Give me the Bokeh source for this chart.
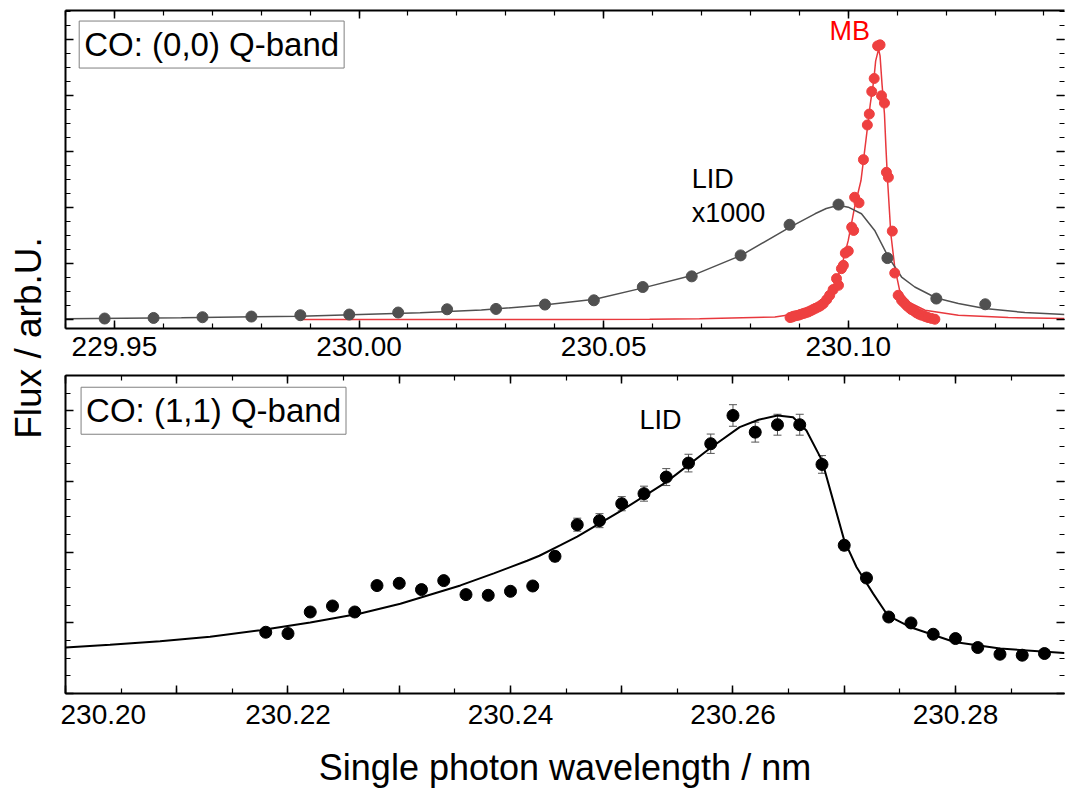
import math
from bokeh.plotting import figure
from bokeh.models import (ColumnDataSource, FixedTicker, LinearAxis, Label, Whisker,
                          PrintfTickFormatter, Range1d, TeeHead, CustomLabelingPolicy)
from bokeh.layouts import row, column
from bokeh.embed import file_html
from bokeh.resources import INLINE

FONT = "Liberation Sans"

# ---------------- data: (0,0) Q-band ----------------
lid00_x = [229.948, 229.958, 229.968, 229.978, 229.988, 229.998, 230.008, 230.018, 230.028, 230.038,
           230.048, 230.058, 230.068, 230.078, 230.088, 230.098, 230.108, 230.118, 230.128]
lid00_y = [0.018, 0.028, 0.041, 0.053, 0.077, 0.089, 0.125, 0.183, 0.189, 0.267,
           0.343, 0.580, 0.770, 1.144, 1.690, 2.050, 1.096, 0.374, 0.272]

lid00_fit_x = [229.9400, 229.9637, 229.9880, 230.0125, 230.0250, 230.0373, 230.0482, 230.0583, 230.0682,
               230.0781, 230.0881, 230.0932, 230.0955, 230.0980, 230.1000, 230.1027, 230.1054, 230.1082,
               230.1109, 230.1136, 230.1180, 230.1225, 230.1279, 230.1361, 230.1442]
lid00_fit_y = [0.014, 0.030, 0.060, 0.120, 0.170, 0.254, 0.361, 0.569, 0.788,
               1.144, 1.648, 1.886, 1.980, 2.039, 2.004, 1.886, 1.589, 1.114,
               0.758, 0.580, 0.384, 0.285, 0.196, 0.125, 0.089]

mb_x = [230.0881, 230.0885, 230.0888, 230.0893, 230.0898, 230.0903, 230.0908, 230.0913, 230.0918, 230.0923,
        230.0928, 230.0933, 230.0939, 230.0944, 230.0949, 230.0956, 230.0962, 230.0969, 230.0976, 230.0980,
        230.0986, 230.0990, 230.0994, 230.1000, 230.1007, 230.1011, 230.1013, 230.1022, 230.1031, 230.1039,
        230.1043, 230.1048, 230.1053, 230.1060, 230.1065, 230.1068, 230.1074, 230.1078, 230.1082, 230.1090,
        230.1095, 230.1102, 230.1109, 230.1114, 230.1119, 230.1124, 230.1129, 230.1135, 230.1140, 230.1145,
        230.1150, 230.1157, 230.1163, 230.1170, 230.1177]
mb_y = [0.036, 0.045, 0.059, 0.068, 0.077, 0.092, 0.107, 0.120, 0.135, 0.155,
        0.178, 0.200, 0.224, 0.250, 0.285, 0.356, 0.432, 0.534, 0.730, 0.610,
        0.907, 0.966, 1.185, 1.221, 1.648, 1.589, 2.181, 2.082, 2.852, 3.470,
        3.665, 4.068, 4.299, 4.881, 4.899, 3.991, 3.861, 2.626, 2.537, 1.577,
        0.829, 0.432, 0.343, 0.300, 0.254, 0.215, 0.178, 0.150, 0.117, 0.095,
        0.077, 0.055, 0.036, 0.020, 0.005]

mb_fit_x = [229.9880, 230.0186, 230.0410, 230.0594, 230.0696, 230.0850, 230.0918, 230.0952, 230.0973,
            230.0986, 230.1000, 230.1013, 230.1026, 230.1036, 230.1045, 230.1052, 230.1056, 230.1062,
            230.1065, 230.1069, 230.1074, 230.1077, 230.1080, 230.1087, 230.1095, 230.1105, 230.1123,
            230.1157, 230.1225, 230.1327, 230.1442]
mb_fit_y = [0.000, 0.000, 0.002, 0.006, 0.014, 0.046, 0.135, 0.343, 0.641,
            0.936, 1.411, 2.004, 2.479, 3.190, 3.843, 4.258, 4.614, 4.822,
            4.703, 4.199, 3.665, 3.071, 2.537, 1.530, 0.936, 0.521, 0.313,
            0.165, 0.077, 0.036, 0.018]

# ---------------- data: (1,1) Q-band ----------------
lid11_x = [230.218, 230.220, 230.222, 230.224, 230.226, 230.228, 230.230, 230.232, 230.234, 230.236,
           230.238, 230.240, 230.242, 230.244, 230.246, 230.248, 230.250, 230.252, 230.254, 230.256,
           230.258, 230.260, 230.262, 230.264, 230.266, 230.268, 230.270, 230.272, 230.274, 230.276,
           230.278, 230.280, 230.282, 230.284, 230.286, 230.288]
lid11_y = [0.867, 0.849, 1.154, 1.239, 1.154, 1.528, 1.560, 1.471, 1.598, 1.400,
           1.390, 1.447, 1.522, 1.942, 2.390, 2.447, 2.687, 2.829, 3.064, 3.262,
           3.536, 3.936, 3.700, 3.805, 3.805, 3.243, 2.098, 1.635, 1.083, 0.999,
           0.839, 0.778, 0.651, 0.556, 0.542, 0.566]
lid11_err = [0.04, 0.04, 0.04, 0.04, 0.04, 0.04, 0.04, 0.04, 0.04, 0.04,
             0.04, 0.04, 0.04, 0.07, 0.092, 0.099, 0.100, 0.106, 0.120, 0.125,
             0.137, 0.153, 0.141, 0.148, 0.148, 0.125, 0.070, 0.050, 0.04, 0.04,
             0.04, 0.04, 0.04, 0.04, 0.04, 0.04]

lid11_fit_x = [230.2000, 230.2040, 230.2085, 230.2130, 230.2175, 230.2220, 230.2265, 230.2301, 230.2355,
               230.2385, 230.2415, 230.2426, 230.2445, 230.2460, 230.2500, 230.2540, 230.2580, 230.2606,
               230.2623, 230.2640, 230.2654, 230.2666, 230.2680, 230.2690, 230.2700, 230.2711, 230.2726,
               230.2739, 230.2759, 230.2799, 230.2840, 230.2898]
lid11_fit_y = [0.650, 0.690, 0.740, 0.805, 0.895, 1.005, 1.132, 1.270, 1.530,
               1.700, 1.880, 1.950, 2.100, 2.220, 2.593, 2.993, 3.479, 3.772,
               3.875, 3.937, 3.912, 3.724, 3.300, 2.734, 2.168, 1.791, 1.414,
               1.107, 0.942, 0.730, 0.636, 0.574]

# ---------------- ticks ----------------
top_x_ticks = [229.95, 230.00, 230.05, 230.10]
top_x_minor = [229.94, 229.95, 229.96, 229.97, 229.98, 229.99, 230.00, 230.01, 230.02, 230.03, 230.04,
               230.05, 230.06, 230.07, 230.08, 230.09, 230.10, 230.11, 230.12, 230.13, 230.14]
top_y_ticks = [0, 1, 2, 3, 4, 5]
top_y_minor = [0, 0.25, 0.5, 0.75, 1, 1.25, 1.5, 1.75, 2, 2.25, 2.5, 2.75, 3, 3.25, 3.5, 3.75,
               4, 4.25, 4.5, 4.75, 5, 5.25, 5.5]
bot_x_ticks = [230.20, 230.21, 230.22, 230.23, 230.24, 230.25, 230.26, 230.27, 230.28, 230.29]
bot_x_labels = [230.20, 230.22, 230.24, 230.26, 230.28]
bot_x_minor = [230.200, 230.205, 230.210, 230.215, 230.220, 230.225, 230.230, 230.235, 230.240, 230.245,
               230.250, 230.255, 230.260, 230.265, 230.270, 230.275, 230.280, 230.285, 230.290]
bot_y_ticks = [0, 1, 2, 3, 4]
bot_y_minor = [0, 0.25, 0.5, 0.75, 1, 1.25, 1.5, 1.75, 2, 2.25, 2.5, 2.75, 3, 3.25, 3.5, 3.75,
               4, 4.25, 4.5]

GRAY = "#505050"
RED_PT = "#EE4040"
RED_LN = "#E8383D"


def no_labels():
    return CustomLabelingPolicy(code="return [];")


def style_axis(ax, show_labels, line=True, standoff=5, ticks=True):
    ax.major_tick_in = 8 if ticks else 0
    ax.major_tick_out = 0
    ax.minor_tick_in = 5 if ticks else 0
    ax.minor_tick_out = 0
    ax.major_tick_line_width = 1.5
    ax.minor_tick_line_width = 1.2
    ax.major_tick_line_color = "black" if ticks else None
    ax.minor_tick_line_color = "black" if ticks else None
    ax.axis_line_width = 2
    ax.axis_line_color = "black" if line else None
    if show_labels:
        ax.major_label_text_font = FONT
        ax.major_label_text_font_size = "28px"
        ax.major_label_text_color = "black"
        ax.major_label_standoff = standoff
    else:
        ax.major_label_text_font_size = "0px"
        ax.major_label_standoff = 0
        ax.major_label_policy = no_labels()


def make_panel(height, border_top, border_bottom, xr, yr, xt, xm, yt, ym, label_bottom, standoff):
    p = figure(width=1005, height=height, x_range=Range1d(*xr), y_range=Range1d(*yr),
               output_backend="svg", toolbar_location=None,
               min_border_left=5, min_border_right=1,
               min_border_top=border_top, min_border_bottom=border_bottom)
    p.xgrid.visible = False
    p.ygrid.visible = False
    p.outline_line_color = None
    p.background_fill_color = "white"
    p.border_fill_color = "white"
    xticker = FixedTicker(ticks=xt, minor_ticks=xm)
    yticker = FixedTicker(ticks=yt, minor_ticks=ym)
    p.xaxis.ticker = xticker
    p.yaxis.ticker = yticker
    style_axis(p.xaxis[0], label_bottom, standoff=standoff)
    if label_bottom:
        p.xaxis.formatter = PrintfTickFormatter(format="%.2f")
    style_axis(p.yaxis[0], False)
    top = LinearAxis(ticker=xticker)
    right = LinearAxis(ticker=yticker)
    style_axis(top, False)
    style_axis(right, False, line=False)
    p.add_layout(top, "above")
    p.add_layout(right, "right")
    return p


# ---------------- top panel ----------------
p1 = make_panel(368, 10, 40, (229.94, 230.1442), (-0.160, 5.512),
                top_x_ticks, top_x_minor, top_y_ticks, top_y_minor, True, 8)

p1.line(mb_fit_x, mb_fit_y, line_color=RED_LN, line_width=1.5)
p1.line(lid00_fit_x, lid00_fit_y, line_color=GRAY, line_width=1.5)
p1.scatter(mb_x, mb_y, size=10, fill_color=RED_PT, line_color=RED_PT)
p1.scatter(lid00_x, lid00_y, size=11, fill_color=GRAY, line_color=GRAY)

p1.add_layout(Label(x=229.9428, y=4.905, text="CO: (0,0) Q-band", text_font=FONT,
                    text_font_size="33px", text_color="black", text_baseline="alphabetic",
                    padding=5, border_line_color="#808080", border_line_width=1,
                    background_fill_color="white"))
p1.add_layout(Label(x=230.0680, y=2.514, text="LID", text_font=FONT, text_font_size="27px",
                    text_color="black", text_baseline="alphabetic"))
p1.add_layout(Label(x=230.0680, y=1.909, text="x1000", text_font=FONT, text_font_size="27px",
                    text_color="black", text_baseline="alphabetic"))
p1.add_layout(Label(x=230.1003, y=5.148, text="MB", text_font=FONT, text_font_size="27px",
                    text_color="#FF0000", text_align="center", text_baseline="alphabetic"))

# ---------------- bottom panel ----------------
p2 = make_panel(422, 7, 97, (230.20, 230.2898), (0.0, 4.502),
                bot_x_ticks, bot_x_minor, bot_y_ticks, bot_y_minor, False, 0)
lab_axis = LinearAxis(ticker=FixedTicker(ticks=bot_x_labels, minor_ticks=[]),
                      formatter=PrintfTickFormatter(format="%.2f"))
style_axis(lab_axis, True, line=False, standoff=11, ticks=False)
lab_axis.axis_label = "Single photon wavelength / nm"
lab_axis.axis_label_text_font = FONT
lab_axis.axis_label_text_font_size = "36px"
lab_axis.axis_label_text_font_style = "normal"
lab_axis.axis_label_text_color = "black"
lab_axis.axis_label_standoff = 20
p2.add_layout(lab_axis, "below")

src = ColumnDataSource(data=dict(
    x=lid11_x, y=lid11_y,
    upper=[v + e for v, e in zip(lid11_y, lid11_err)],
    lower=[v - e for v, e in zip(lid11_y, lid11_err)],
))
p2.add_layout(Whisker(source=src, base="x", upper="upper", lower="lower",
                      line_color="#555555", line_width=1, level="underlay",
                      upper_head=TeeHead(size=8, line_color="#555555", line_width=1),
                      lower_head=TeeHead(size=8, line_color="#555555", line_width=1)))
p2.line(lid11_fit_x, lid11_fit_y, line_color="black", line_width=2)
p2.scatter("x", "y", source=src, size=12, fill_color="black", line_color="black")

p2.add_layout(Label(x=230.2014, y=4.003, text="CO: (1,1) Q-band", text_font=FONT,
                    text_font_size="33px", text_color="black", text_baseline="alphabetic",
                    padding=5, border_line_color="#808080", border_line_width=1,
                    background_fill_color="white"))
p2.add_layout(Label(x=230.2516, y=3.865, text="LID", text_font=FONT, text_font_size="27px",
                    text_color="black", text_baseline="alphabetic"))

# ---------------- y title strip ----------------
p0 = figure(width=60, height=790, x_range=Range1d(0, 60), y_range=Range1d(0, 790),
            output_backend="svg", toolbar_location=None, min_border=0,
            x_axis_location=None, y_axis_location=None)
p0.xgrid.visible = False
p0.ygrid.visible = False
p0.outline_line_color = None
p0.add_layout(Label(x=28, y=452.5, text="Flux / arb.U.", angle=math.pi / 2, text_font=FONT,
                    text_font_size="37px", text_color="black", text_align="center",
                    text_baseline="alphabetic"))

layout = row(p0, column(p1, p2, spacing=0), spacing=0)

open("out.html", "w").write(file_html(layout, INLINE))
